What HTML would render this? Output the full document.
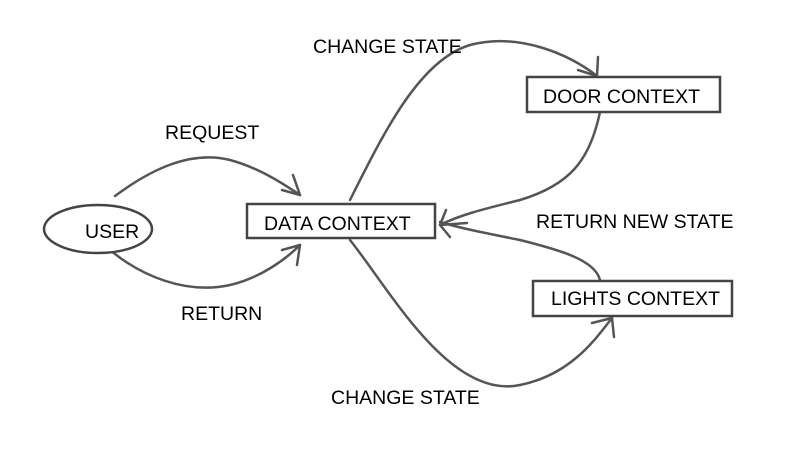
<!DOCTYPE html>
<html><head><style>
body{margin:0;background:#fff;}
svg{display:block}
text{font-family:"Liberation Sans",sans-serif;font-size:19.5px;fill:#000}
</style></head><body>
<svg width="808" height="464" viewBox="0 0 808 464">
<g fill="none" stroke="#555" stroke-width="2.5" stroke-linecap="round">
<path d="M115 196 C150 170 190 150 230 160 C260 168 285 185 300 195"/>
<path d="M300 195 L282 190 M300 195 L293 175"/>
<path d="M110 250 C140 275 185 295 230 285 C260 278 285 260 300 245"/>
<path d="M300 245 L282 250 M300 245 L297 265"/>
<path d="M350 200 C385 130 420 60 470 45 C520 32 570 55 597 76"/>
<path d="M597 76 L578 70 M597 76 L598 57"/>
<path d="M600 112 C590 160 570 185 520 200 C480 210 460 215 440 225"/>
<path d="M440 225 L467 223 M440 225 L446 210 M440 225 L450 237"/>
<path d="M600 280 C595 260 560 250 520 240 C480 232 460 228 440 222"/>
<path d="M350 240 C390 290 450 400 520 385 C570 375 595 340 612 318"/>
<path d="M612 318 L592 323 M612 318 L614 337"/>
</g>
<g fill="#fff" stroke="#444" stroke-width="2.5">
<ellipse cx="98" cy="229" rx="54" ry="24"/>
<rect x="247" y="204" width="188" height="34"/>
<rect x="527" y="77" width="193" height="35"/>
<rect x="533" y="281" width="199" height="35"/>
</g>
<text x="85" y="238">USER</text>
<text x="264" y="230">DATA CONTEXT</text>
<text x="543" y="103">DOOR CONTEXT</text>
<text x="551" y="305">LIGHTS CONTEXT</text>
<text x="165" y="139">REQUEST</text>
<text x="181" y="320">RETURN</text>
<text x="313" y="53">CHANGE STATE</text>
<text x="331" y="404">CHANGE STATE</text>
<text x="536" y="228">RETURN NEW STATE</text>
</svg>
</body></html>
